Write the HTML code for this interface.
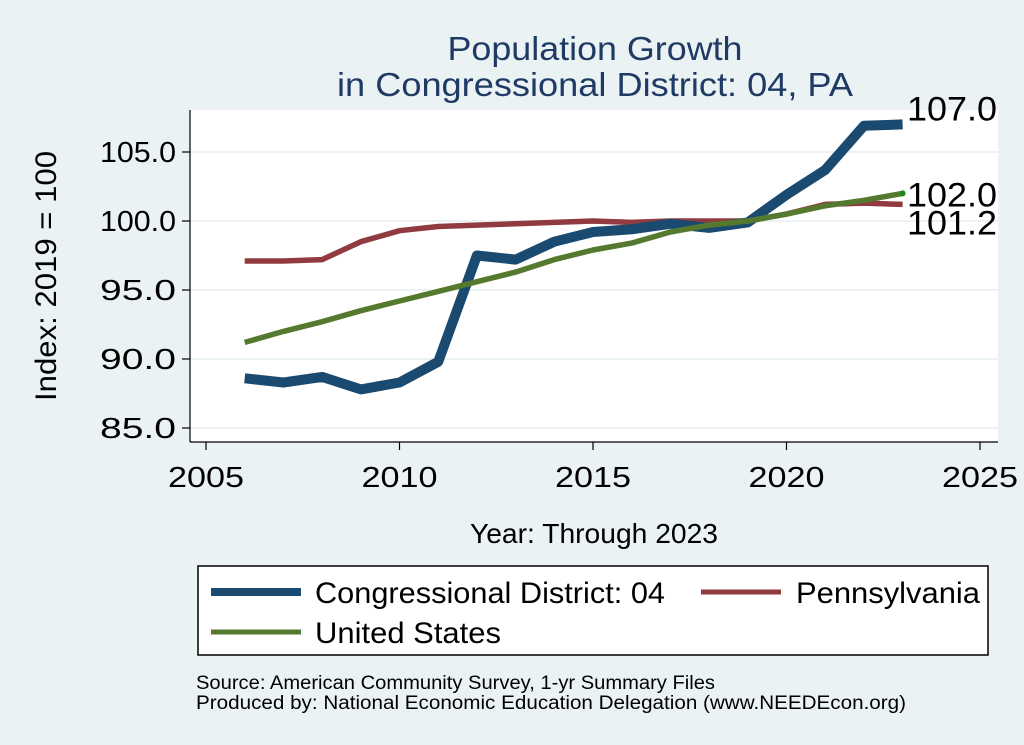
<!DOCTYPE html>
<html><head><meta charset="utf-8"><style>
html,body{margin:0;padding:0;background:#eaf2f3;}
svg{display:block;font-family:"Liberation Sans",Arial,sans-serif;}
</style></head><body>
<svg id="chart" width="1024" height="745" viewBox="0 0 1024 745">
<rect x="0" y="0" width="1024" height="745" fill="#eaf2f3"/>
<text x="595" y="60" text-anchor="middle" font-size="33" fill="#1f3a64" textLength="295" lengthAdjust="spacingAndGlyphs">Population Growth</text>
<text x="595" y="96" text-anchor="middle" font-size="33" fill="#1f3a64" textLength="516" lengthAdjust="spacingAndGlyphs">in Congressional District: 04, PA</text>
<rect x="190" y="110" width="808" height="332" fill="#ffffff"/>
<g id="grid"></g>
<g id="axes"></g>
<g id="series"></g>
<text transform="translate(56,276) rotate(-90)" text-anchor="middle" font-size="30" fill="#000" textLength="250" lengthAdjust="spacingAndGlyphs">Index: 2019 = 100</text>
<text x="594" y="543" text-anchor="middle" font-size="28" fill="#000" textLength="248" lengthAdjust="spacingAndGlyphs">Year: Through 2023</text>
<g>
<rect x="198" y="566" width="790" height="89" fill="#fff" stroke="#000" stroke-width="1.5"/>
<line x1="211" y1="592" x2="301" y2="592" stroke="#1b4a70" stroke-width="8"/>
<text x="315" y="603" font-size="30" textLength="350" lengthAdjust="spacingAndGlyphs">Congressional District: 04</text>
<line x1="701" y1="592" x2="781" y2="592" stroke="#913a3f" stroke-width="5"/>
<text x="796" y="603" font-size="30" textLength="184" lengthAdjust="spacingAndGlyphs">Pennsylvania</text>
<line x1="211" y1="632" x2="301" y2="632" stroke="#557a2f" stroke-width="5"/>
<text x="315" y="643" font-size="30" textLength="186" lengthAdjust="spacingAndGlyphs">United States</text>
</g>
<text x="196" y="689" font-size="19" textLength="519" lengthAdjust="spacingAndGlyphs">Source: American Community Survey, 1-yr Summary Files</text>
<text x="196" y="709" font-size="19" textLength="710" lengthAdjust="spacingAndGlyphs">Produced by: National Economic Education Delegation (www.NEEDEcon.org)</text>
</svg>
<script>
const years=[2006,2007,2008,2009,2010,2011,2012,2013,2014,2015,2016,2017,2018,2019,2020,2021,2022,2023];
const districtVals=[88.6,88.3,88.7,87.8,88.3,89.8,97.5,97.2,98.5,99.2,99.4,99.8,99.5,99.9,101.9,103.7,106.9,107.0];
const paVals=[97.1,97.1,97.2,98.5,99.3,99.6,99.7,99.8,99.9,100.0,99.9,100.0,100.0,100.0,100.5,101.2,101.3,101.2];
const usVals=[91.2,92.0,92.7,93.5,94.2,94.9,95.6,96.3,97.2,97.9,98.4,99.2,99.7,100.0,100.5,101.1,101.5,102.0];
const xTicks=[2005,2010,2015,2020,2025];
const yTicks=[85,90,95,100,105];
const endLabels=["107.0","102.0","101.2"];

const NS="http://www.w3.org/2000/svg";
function xs(v){return 206+(v-2005)*(980-206)/20;}
function ys(v){return 221-(v-100)*13.8;}
function mk(tag,attrs,parent){const e=document.createElementNS(NS,tag);for(const k in attrs)e.setAttribute(k,attrs[k]);parent.appendChild(e);return e;}
const grid=document.getElementById('grid'),axes=document.getElementById('axes'),ser=document.getElementById('series');
yTicks.forEach(t=>{
 const g=mk('line',{x1:190,x2:998,y1:ys(t),y2:ys(t),stroke:'#eaf2f3','stroke-width':2},grid);
 
 
 const tk=mk('line',{x1:182,x2:190,y1:ys(t),y2:ys(t),stroke:'#000','stroke-width':1.2},axes);
 
 
 const tx=mk('text',{x:176,y:ys(t)+10,'text-anchor':'end','font-size':29,textLength:76,lengthAdjust:'spacingAndGlyphs'},axes);
 tx.textContent=t.toFixed(1);
 
 
});
xTicks.forEach(t=>{
 const tx=mk('text',{x:xs(t),y:487,'text-anchor':'middle','font-size':29,textLength:76,lengthAdjust:'spacingAndGlyphs'},axes);
 tx.textContent=t;
 
 
 const tk=mk('line',{x1:xs(t),x2:xs(t),y1:442,y2:450,stroke:'#000','stroke-width':1.2},axes);
 
 
});
const ya=mk('line',{x1:190,x2:190,y1:110,y2:442,stroke:'#000','stroke-width':1.2},axes);


const xa=mk('line',{x1:190,x2:998,y1:442,y2:442,stroke:'#000','stroke-width':1.2},axes);


function draw(vals,color,w,name){
 const d=vals.map((v,i)=>(i?'L':'M')+xs(years[i]).toFixed(1)+','+ys(v).toFixed(1)).join(' ');
 const p=mk('path',{d:d,fill:'none',stroke:color,'stroke-width':w,'stroke-linejoin':'round'},ser);
 
 
}
draw(paVals,'#913a3f',5.5,'line-pennsylvania');
draw(districtVals,'#1b4a70',10,'line-district');
draw(usVals,'#557a2f',5.5,'line-us');
const dot=mk('circle',{cx:xs(2023),cy:ys(usVals[usVals.length-1]),r:3,fill:'#1a8a1a'},ser);


const lastVals=[districtVals[districtVals.length-1],usVals[usVals.length-1],paVals[paVals.length-1]];
const offs=[-16,1,18];
endLabels.forEach((l,i)=>{
 const t=mk('text',{x:907,y:ys(lastVals[i])+offs[i]+12,'font-size':34,textLength:90,lengthAdjust:'spacingAndGlyphs'},ser);
 t.textContent=l;
 
 
});
</script>
</body></html>
